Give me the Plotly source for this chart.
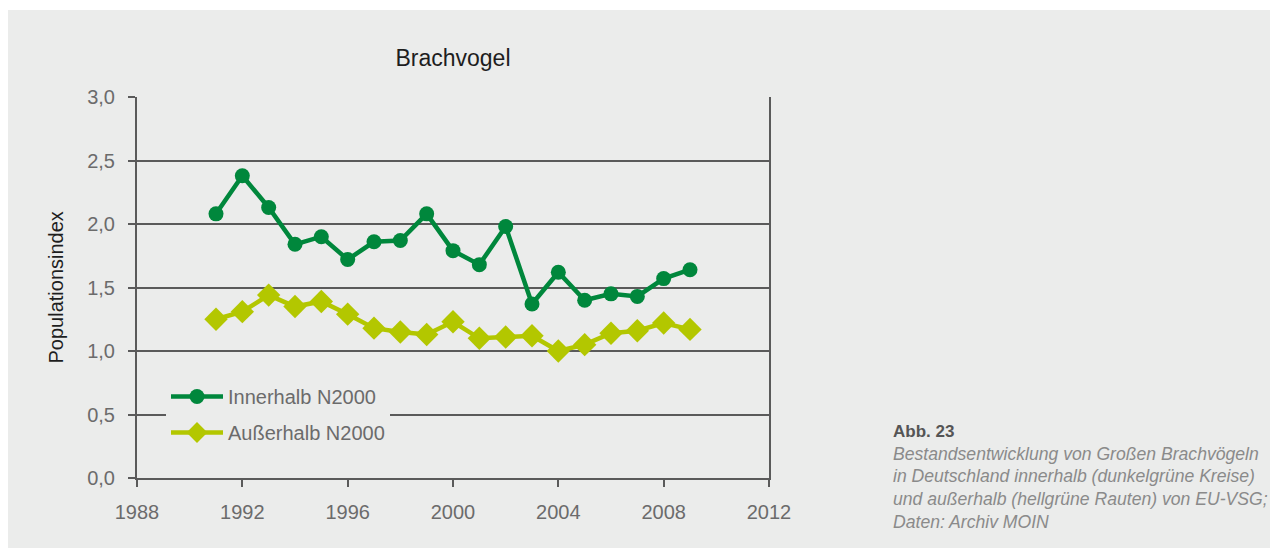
import plotly.graph_objects as go

years = list(range(1991, 2010))
innerhalb = [2.08, 2.38, 2.13, 1.84, 1.90, 1.72, 1.86, 1.87, 2.08, 1.79, 1.68, 1.98, 1.37,
             1.62, 1.40, 1.45, 1.43, 1.57, 1.64]
ausserhalb = [1.25, 1.31, 1.44, 1.35, 1.39, 1.29, 1.18, 1.15, 1.13, 1.23, 1.10, 1.11, 1.12,
              1.00, 1.05, 1.14, 1.16, 1.22, 1.17]
series_names = ["Innerhalb N2000", "Außerhalb N2000"]
title_text = "Brachvogel"
y_title = "Populationsindex"
caption_head = "Abb. 23"
caption_lines = [
    "Bestandsentwicklung von Großen Brachvögeln",
    "in Deutschland innerhalb (dunkelgrüne Kreise)",
    "und außerhalb (hellgrüne Rauten) von EU-VSG;",
    "Daten: Archiv MOIN",
]

# the page body adds an 8px margin; lay out in screen pixels and offset
OFF = 8
W, H = 1278 - OFF, 548 - OFF
L, R, T, B = 137 - OFF, 769 - OFF, 97 - OFF, 478 - OFF
PW, PH = R - L, B - T


def px(x):
    return (x - OFF - L) / PW


def py(y):
    return (B - (y - OFF)) / PH


PANEL = "#EBECEB"
AX = "#5a5a5a"
DARK = "#00873C"
LIGHT = "#B3C700"
FONT = "Liberation Sans, Arial, sans-serif"

fig = go.Figure()
fig.add_trace(go.Scatter(
    x=years, y=innerhalb, name=series_names[0], mode="lines+markers",
    line=dict(color=DARK, width=4.5), marker=dict(symbol="circle", size=15, color=DARK),
    legendgroup="a"))
fig.add_trace(go.Scatter(
    x=years, y=ausserhalb, name=series_names[1], mode="lines+markers",
    line=dict(color=LIGHT, width=4.5), marker=dict(symbol="diamond", size=18, color=LIGHT),
    legendgroup="b"))

shapes = [
    dict(type="rect", xref="paper", yref="paper", x0=px(0), x1=px(1290), y0=py(10), y1=py(0),
         fillcolor="white", line=dict(width=0), layer="below"),
]

annotations = [
    dict(text=y_title, x=px(55), y=0.5, xref="paper", yref="paper", textangle=-90,
         showarrow=False, xanchor="center", yanchor="middle",
         font=dict(family=FONT, size=20, color="#1e1e1e")),
    dict(text="<b>" + caption_head + "</b>", x=px(891), y=py(431), xref="paper", yref="paper",
         showarrow=False, xanchor="left", yanchor="middle",
         font=dict(family=FONT, size=17, color="#555555")),
]
for i, line in enumerate(caption_lines):
    annotations.append(dict(
        text="<i>" + line + "</i>", x=px(891), y=py(453.5 + i * 22.8), xref="paper", yref="paper",
        showarrow=False, xanchor="left", yanchor="middle",
        font=dict(family=FONT, size=17.6, color="#8a8a8a")))

fig.update_layout(
    width=W, height=H,
    margin=dict(l=L, r=W - R, t=T, b=H - B, pad=0),
    paper_bgcolor=PANEL, plot_bgcolor="rgba(0,0,0,0)",
    separators=", ",
    font=dict(family=FONT, color="#6b6b6b"),
    title=dict(text=title_text, x=0.5, xref="paper", xanchor="center",
               y=1 - (58 - OFF) / H, yanchor="middle",
               font=dict(family=FONT, size=23, color="#1e1e1e")),
    xaxis=dict(range=[1988, 2012], tickmode="linear", tick0=1988, dtick=4, tickformat="d",
               showgrid=False, zeroline=False, showline=True, linecolor=AX, linewidth=2,
               ticks="outside", ticklen=7, tickwidth=2, tickcolor=AX,
               ticklabelstandoff=8, tickfont=dict(family=FONT, size=20, color="#6b6b6b")),
    yaxis=dict(range=[0, 3], tickmode="linear", tick0=0, dtick=0.5, tickformat=".1f",
               showgrid=True, gridcolor=AX, gridwidth=2, zeroline=False,
               showline=True, linecolor=AX, linewidth=2, mirror=True,
               ticks="outside", ticklen=7, tickwidth=2, tickcolor=AX,
               ticklabelstandoff=9, tickfont=dict(family=FONT, size=20, color="#6b6b6b")),
    showlegend=True,
    legend=dict(x=px(166), y=py(377), xanchor="left", yanchor="top",
                bgcolor=PANEL, borderwidth=0, itemwidth=52,
                traceorder="grouped", tracegroupgap=7,
                font=dict(family=FONT, size=20, color="#6b6b6b")),
    shapes=shapes,
    annotations=annotations,
)

fig.write_html("out.html")
